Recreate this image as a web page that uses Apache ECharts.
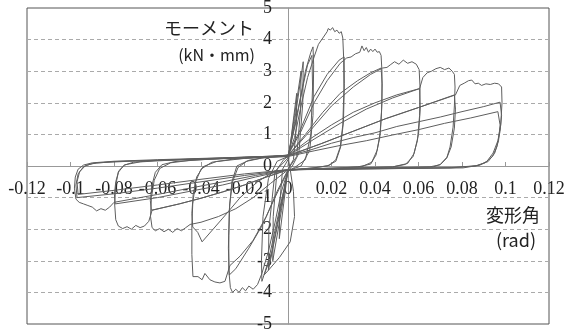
<!DOCTYPE html>
<html>
<head>
<meta charset="utf-8">
<style>
  html, body { margin: 0; padding: 0; background: #fff; }
  #chart { width: 566px; height: 329px; }
</style>
<script src="https://cdn.jsdelivr.net/npm/echarts@6/dist/echarts.min.js"></script>
</head>
<body>
<div id="chart"></div>
<script>
// 軸の目盛
const xTicks = [-0.12, -0.1, -0.08, -0.06, -0.04, -0.02, 0, 0.02, 0.04, 0.06, 0.08, 0.1, 0.12];
const yTicks = [-5, -4, -3, -2, -1, 0, 1, 2, 3, 4, 5];

// 履歴ループ（変形角 rad, モーメント kN・mm）を読み取り
// 小振幅サイクル
const s1 = [[0,0],[0.002,1.2],[0.004,2.3],[0.0038,1.2],[0.0025,0.2],[0,-0.1],[-0.002,-1.2],[-0.004,-2.3],[-0.0038,-1.2],[-0.0025,-0.1],[0,0.2]];
const s2 = [[0,0.2],[0.003,1.6],[0.006,3.0],[0.0058,1.8],[0.004,0.3],[0,-0.1],[-0.003,-1.4],[-0.007,-3.0],[-0.0068,-1.6],[-0.005,-0.1],[0,0.25]];
const s3 = [[0,0.25],[0.003,1.4],[0.007,3.3],[0.0068,2.0],[0.005,0.4],[0.002,0],[0,-0.15],[-0.004,-1.6],[-0.009,-3.3],[-0.0088,-2.0],[-0.006,-0.2],[-0.002,0.2],[0,0.3]];
const s4 = [[0,0.3],[0.004,1.5],[0.008,3.0],[0.0105,3.6],[0.0115,3.77],[0.0118,3.2],[0.0115,1.6],[0.010,0.5],[0.006,0.0],[0,-0.15],[-0.004,-1.4],[-0.009,-3.0],[-0.0115,-3.55],[-0.012,-3.65],[-0.0122,-3.0],[-0.0115,-1.6],[-0.009,-0.4],[-0.005,0.15],[0,0.3]];
const s5 = [[0,0.3],[0.004,1.6],[0.009,3.2],[0.011,3.5],[0.0113,2.5],[0.0105,1.0],[0.008,0.2],[0.003,-0.05],[0,-0.15],[-0.004,-1.5],[-0.008,-2.9],[-0.011,-3.45],[-0.009,-3.3],[-0.004,-2.9],[0.001,-2.4],[0.003,-1.6],[0.0025,-0.8],[0.001,-0.1],[0,0.3]];
// 0.025 rad
const c05 = [[0,0.3],[0.003,0.9],[0.006,1.9],[0.009,2.8],[0.012,3.45],[0.014,3.85],[0.016,4.05],[0.018,4.25],[0.0185,4.35],[0.0195,4.3],[0.0205,4.38],[0.0215,4.25],[0.0225,4.3],[0.0235,4.2],[0.0245,4.25],[0.0252,4.05],[0.0256,3.4],[0.0257,2.4],[0.0252,1.3],[0.024,0.6],[0.022,0.2],[0.019,0.02],[0.012,-0.06],[0.004,-0.1],[0,-0.15],
  [-0.003,-0.8],[-0.006,-1.8],[-0.009,-2.7],[-0.012,-3.4],[-0.014,-3.75],[-0.016,-3.9],[-0.018,-3.8],[-0.0195,-3.95],[-0.021,-3.85],[-0.0225,-4.0],[-0.024,-3.9],[-0.0255,-4.0],[-0.0265,-3.85],[-0.0272,-3.3],[-0.0272,-2.2],[-0.0268,-1.2],[-0.0255,-0.5],[-0.023,-0.05],[-0.019,0.15],[-0.012,0.25],[-0.004,0.3],[0,0.35]];
const c06 = [[0,0.35],[0.006,1.2],[0.012,2.2],[0.018,2.9],[0.0235,3.35],[0.0258,3.45],[0.0259,2.6],[0.0255,1.4],[0.0242,0.6],[0.022,0.15],[0.018,0.0],[0.01,-0.07],[0,-0.15],
  [-0.006,-1.0],[-0.012,-1.9],[-0.018,-2.6],[-0.024,-3.25],[-0.027,-3.45],[-0.0274,-2.6],[-0.027,-1.4],[-0.0258,-0.5],[-0.0235,0.0],[-0.018,0.18],[-0.01,0.28],[0,0.35]];
// 0.043 rad
const c07 = [[0,0.35],[0.006,1.1],[0.012,2.0],[0.018,2.7],[0.024,3.25],[0.027,3.42],[0.029,3.45],[0.031,3.55],[0.033,3.6],[0.034,3.8],[0.035,3.65],[0.036,3.75],[0.037,3.6],[0.038,3.7],[0.039,3.62],[0.04,3.7],[0.041,3.6],[0.042,3.62],[0.0428,3.5],[0.0432,3.0],[0.0432,2.0],[0.0425,1.1],[0.041,0.5],[0.0385,0.12],[0.034,-0.02],[0.025,-0.06],[0.012,-0.08],[0,-0.12],
  [-0.005,-0.8],[-0.01,-1.6],[-0.016,-2.35],[-0.022,-2.85],[-0.0267,-3.15],[-0.029,-3.65],[-0.0313,-3.7],[-0.0336,-3.67],[-0.0359,-3.6],[-0.0382,-3.4],[-0.0395,-3.6],[-0.0414,-3.5],[-0.0437,-3.5],[-0.0442,-2.8],[-0.0442,-1.9],[-0.0438,-1.2],[-0.0425,-0.5],[-0.04,-0.1],[-0.035,0.12],[-0.025,0.22],[-0.012,0.28],[0,0.33]];
const c08 = [[0,0.33],[0.008,1.0],[0.016,1.7],[0.024,2.3],[0.032,2.7],[0.038,2.95],[0.0428,3.1],[0.0433,2.6],[0.043,1.7],[0.0422,0.9],[0.0405,0.35],[0.038,0.06],[0.032,-0.03],[0.02,-0.07],[0,-0.12],
  [-0.006,-0.15],[-0.014,-0.5],[-0.022,-1.0],[-0.03,-1.65],[-0.0395,-2.4],[-0.0415,-2.1],[-0.0438,-1.93],[-0.0442,-1.5],[-0.0436,-0.9],[-0.042,-0.35],[-0.039,-0.02],[-0.033,0.14],[-0.02,0.24],[0,0.32]];
// 0.060 rad
const c09 = [[0,0.32],[0.01,1.1],[0.02,1.9],[0.03,2.5],[0.038,2.9],[0.0435,3.1],[0.0455,3.12],[0.047,3.2],[0.049,3.3],[0.051,3.22],[0.053,3.35],[0.055,3.25],[0.057,3.3],[0.059,3.22],[0.0603,3.05],[0.0607,2.5],[0.0605,1.6],[0.0595,0.8],[0.0575,0.3],[0.054,0.05],[0.048,-0.03],[0.035,-0.06],[0.015,-0.08],[0,-0.12],
  [-0.008,-0.55],[-0.016,-1.0],[-0.024,-1.35],[-0.032,-1.6],[-0.04,-1.78],[-0.045,-1.85],[-0.047,-1.95],[-0.049,-2.05],[-0.051,-1.98],[-0.053,-2.1],[-0.055,-2.0],[-0.057,-2.08],[-0.059,-1.98],[-0.061,-2.05],[-0.0625,-1.95],[-0.0632,-1.6],[-0.0628,-1.0],[-0.0615,-0.45],[-0.059,-0.08],[-0.054,0.1],[-0.045,0.18],[-0.03,0.24],[-0.012,0.3],[0,0.33]];
const c10 = [[0,0.33],[0.01,0.85],[0.02,1.3],[0.03,1.7],[0.04,2.0],[0.05,2.25],[0.0605,2.45],[0.0608,1.8],[0.06,1.0],[0.058,0.4],[0.055,0.08],[0.048,-0.03],[0.03,-0.06],[0,-0.12],
  [-0.01,-0.35],[-0.02,-0.6],[-0.03,-0.82],[-0.04,-1.02],[-0.05,-1.2],[-0.0628,-1.4],[-0.0633,-1.1],[-0.0625,-0.6],[-0.061,-0.2],[-0.058,0.04],[-0.052,0.14],[-0.035,0.22],[0,0.32]];
// 0.077 rad
const c11 = [[0,0.32],[0.012,0.85],[0.024,1.35],[0.036,1.8],[0.048,2.15],[0.0605,2.45],[0.062,2.8],[0.064,2.95],[0.066,3.0],[0.068,3.08],[0.07,3.12],[0.072,3.05],[0.074,3.1],[0.0755,3.0],[0.0765,2.9],[0.0768,2.5],[0.0765,1.9],[0.0759,1.23],[0.0745,0.6],[0.0731,0.28],[0.07,0.05],[0.0667,-0.03],[0.05,-0.06],[0.025,-0.08],[0,-0.12],
  [-0.01,-0.35],[-0.02,-0.6],[-0.03,-0.82],[-0.04,-1.02],[-0.05,-1.2],[-0.0625,-1.4],[-0.064,-1.75],[-0.066,-1.9],[-0.068,-1.95],[-0.07,-1.88],[-0.072,-2.0],[-0.074,-1.92],[-0.076,-1.98],[-0.078,-1.9],[-0.0792,-1.7],[-0.0797,-1.2],[-0.0792,-0.6],[-0.078,-0.2],[-0.0755,0.02],[-0.071,0.12],[-0.06,0.18],[-0.04,0.23],[-0.02,0.28],[0,0.33]];
const c12 = [[0,0.33],[0.015,0.7],[0.03,1.1],[0.045,1.5],[0.06,1.85],[0.0765,2.25],[0.077,1.8],[0.0765,1.2],[0.075,0.6],[0.073,0.25],[0.07,0.04],[0.065,-0.03],[0.04,-0.07],[0,-0.12],
  [-0.015,-0.35],[-0.03,-0.6],[-0.045,-0.8],[-0.06,-1.0],[-0.0795,-1.2],[-0.0798,-0.9],[-0.0792,-0.5],[-0.0778,-0.15],[-0.075,0.04],[-0.068,0.13],[-0.05,0.2],[0,0.32]];
// 0.097 rad
const c13 = [[0,0.32],[0.015,0.7],[0.03,1.1],[0.045,1.5],[0.06,1.85],[0.077,2.25],[0.079,2.55],[0.081,2.62],[0.083,2.7],[0.0845,2.72],[0.086,2.6],[0.0875,2.62],[0.089,2.55],[0.091,2.6],[0.093,2.58],[0.095,2.62],[0.0968,2.6],[0.0982,2.5],[0.0984,2.0],[0.0978,1.3],[0.0965,0.8],[0.0943,0.41],[0.0915,0.15],[0.0883,0.03],[0.0805,-0.06],[0.05,-0.08],[0.02,-0.1],[0,-0.12],
  [-0.015,-0.3],[-0.03,-0.5],[-0.045,-0.7],[-0.06,-0.9],[-0.08,-1.15],[-0.082,-1.3],[-0.084,-1.4],[-0.086,-1.35],[-0.088,-1.42],[-0.09,-1.3],[-0.092,-1.25],[-0.094,-1.2],[-0.096,-1.15],[-0.0975,-1.05],[-0.0982,-0.7],[-0.0978,-0.35],[-0.0965,-0.1],[-0.094,0.03],[-0.09,0.1],[-0.08,0.15],[-0.06,0.2],[-0.03,0.26],[0,0.32]];
const c14 = [[0,0.32],[0.01,0.5],[0.02,0.72],[0.03,0.9],[0.04,1.05],[0.05,1.25],[0.06,1.4],[0.07,1.55],[0.08,1.72],[0.09,1.88],[0.0975,2.02],[0.0982,1.6],[0.0975,1.1],[0.096,0.6],[0.094,0.3],[0.0905,0.1],[0.086,0.0],[0.075,-0.06],[0.04,-0.09],[0,-0.12],
  [-0.02,-0.3],[-0.04,-0.5],[-0.06,-0.7],[-0.08,-0.88],[-0.097,-1.0],[-0.0975,-0.6],[-0.0965,-0.25],[-0.094,-0.02],[-0.09,0.08],[-0.08,0.14],[-0.05,0.2],[0,0.3]];
const c15 = [[0,0.3],[0.012,0.48],[0.024,0.65],[0.036,0.8],[0.048,0.98],[0.06,1.15],[0.072,1.35],[0.084,1.52],[0.0965,1.72],[0.0975,1.3],[0.0968,0.8],[0.095,0.4],[0.092,0.14],[0.087,0.01],[0.075,-0.05],[0.04,-0.08],[0,-0.12],
  [-0.02,-0.25],[-0.04,-0.42],[-0.06,-0.6],[-0.08,-0.77],[-0.0965,-0.9],[-0.097,-0.5],[-0.0958,-0.18],[-0.093,0.02],[-0.088,0.1],[-0.07,0.16],[-0.035,0.22],[0,0.3]];

const cycles = [s1, s2, s3, s4, s5, c05, c06, c07, c08, c09, c10, c11, c12, c13, c14, c15];

const chart = echarts.init(document.getElementById('chart'));
const serif = 'Liberation Serif';
const jp = '"Noto Sans CJK JP", sans-serif';

// グリッド: 左27 右17 上8 下5 → 原点は (288,166)
chart.setOption({
  animation: false,
  grid: {
    left: 27, right: 17, top: 8, bottom: 5,
    containLabel: false, outerBoundsMode: 'none',
    show: true, borderColor: '#555', borderWidth: 1
  },
  xAxis: {
    type: 'value',
    min: xTicks[0],
    max: xTicks[xTicks.length - 1],
    interval: 0.02,
    position: 'bottom',
    offset: -158,
    axisLine: { onZero: false, lineStyle: { color: '#999', width: 1 } },
    axisTick: { show: true, inside: true, length: 4, lineStyle: { color: '#999' } },
    axisLabel: {
      fontFamily: serif, fontSize: 18, color: '#222', margin: 14,
      formatter: (v) => String(+v.toFixed(2))
    },
    splitLine: { show: false }
  },
  yAxis: {
    type: 'value',
    min: yTicks[0],
    max: yTicks[yTicks.length - 1],
    interval: 1,
    position: 'left',
    offset: -261,
    axisLine: { onZero: false, lineStyle: { color: '#999', width: 1 } },
    axisTick: { show: false },
    axisLabel: { fontFamily: serif, fontSize: 18, color: '#222', margin: 16 },
    splitLine: { showMinLine: false, showMaxLine: false, lineStyle: { type: [4, 3], color: '#aaa', width: 1 } }
  },
  series: cycles.map((c) => ({
    type: 'line',
    data: c,
    symbol: 'none',
    silent: true,
    lineStyle: { color: '#5e5e5e', width: 1 }
  })),
  graphic: [
    { type: 'text', x: 254, y: 28, style: { text: 'モーメント', font: '18px ' + jp, fill: '#222', align: 'right', verticalAlign: 'middle', textAlign: 'right', textVerticalAlign: 'middle' } },
    { type: 'text', x: 255, y: 55, style: { text: '(kN・mm)', font: '16px ' + jp, fill: '#222', align: 'right', verticalAlign: 'middle', textAlign: 'right', textVerticalAlign: 'middle' } },
    { type: 'text', x: 540, y: 215, style: { text: '変形角', font: '18px ' + jp, fill: '#222', align: 'right', verticalAlign: 'middle', textAlign: 'right', textVerticalAlign: 'middle' } },
    { type: 'text', x: 536, y: 240, style: { text: '(rad)', font: '18px ' + jp, fill: '#222', align: 'right', verticalAlign: 'middle', textAlign: 'right', textVerticalAlign: 'middle' } }
  ]
});
</script>
</body>
</html>
